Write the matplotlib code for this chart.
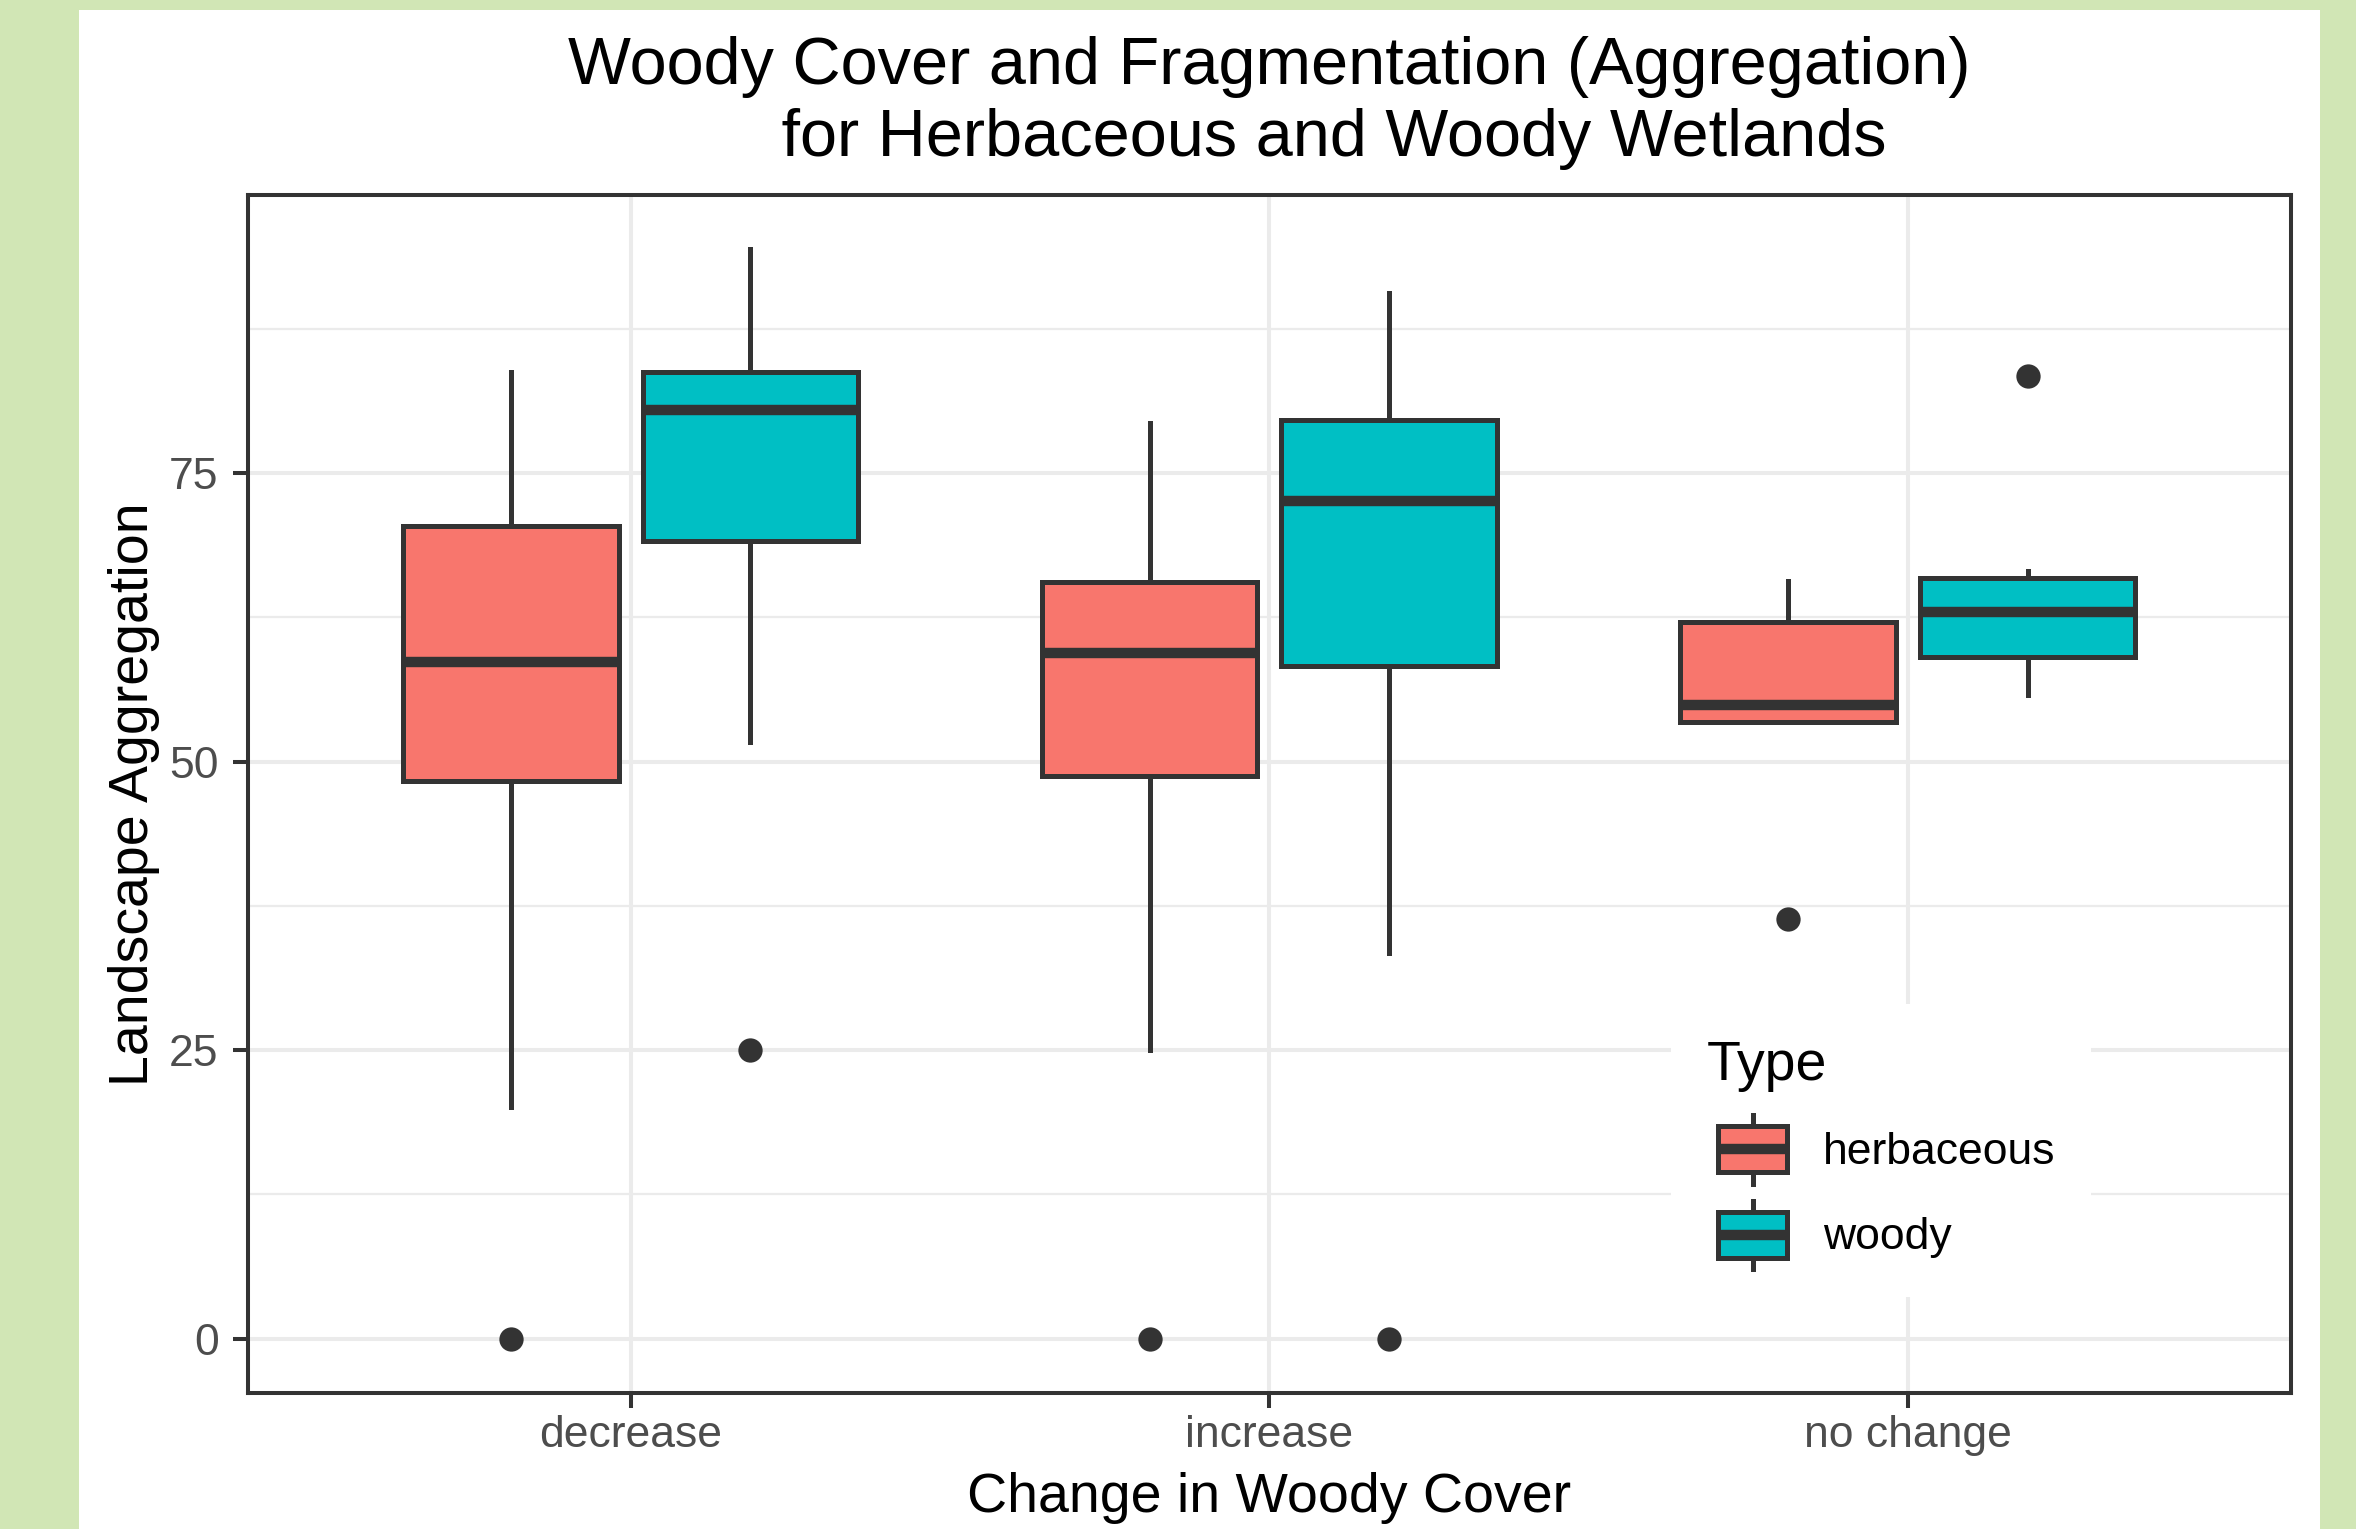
import matplotlib
matplotlib.use("Agg")
import matplotlib.pyplot as plt
from matplotlib.patches import Rectangle
from matplotlib.lines import Line2D
from matplotlib.legend_handler import HandlerBase
import numpy as np

plt.rcParams['font.family'] = ['Liberation Sans', 'DejaVu Sans']

# ---------------- data ----------------
categories = ["decrease", "increase", "no change"]
types = ["herbaceous", "woody"]
fill_colors = ["#F8766D", "#00BFC4"]

herb_whislo = [20.1, 25.0, 53.4]
herb_q1 = [48.3, 48.8, 53.4]
herb_med = [58.6, 59.4, 54.9]
herb_q3 = [70.4, 65.6, 62.1]
herb_whishi = [83.8, 79.4, 65.7]
herb_fliers = [[0.0], [0.0], [36.4]]

woody_whislo = [51.7, 33.4, 55.8]
woody_q1 = [69.1, 58.3, 59.1]
woody_med = [80.5, 72.6, 63.0]
woody_q3 = [83.8, 79.6, 65.9]
woody_whishi = [94.4, 90.6, 66.5]
woody_fliers = [[25.0], [0.0], [83.4]]

y_ticks = [0, 25, 50, 75]
y_minor_ticks = [12.5, 37.5, 62.5, 87.5]

title = "Woody Cover and Fragmentation (Aggregation)\n       for Herbaceous and Woody Wetlands"
x_label = "Change in Woody Cover"
y_label = "Landscape Aggregation"
legend_title = "Type"

# ---------------- styling ----------------
EDGE = "#333333"
GRID = "#ebebeb"
LW = 3.6
MED_LW = 7.5

fig = plt.figure(figsize=(23.56, 15.29), dpi=100)
fig.patch.set_facecolor("#d1e6b5")
fig.add_artist(Rectangle((79 / 2356, 0), (2320 - 79) / 2356, 1 - 10 / 1529,
                         transform=fig.transFigure, facecolor="white",
                         edgecolor="none", zorder=-10))

ax = fig.add_axes([247.5 / 2356, 1 - 1393 / 1529, 2043.5 / 2356, 1198 / 1529])
ax.set_facecolor("white")

series = [
    (herb_whislo, herb_q1, herb_med, herb_q3, herb_whishi, herb_fliers),
    (woody_whislo, woody_q1, woody_med, woody_q3, woody_whishi, woody_fliers),
]
dodge = [-0.1875, 0.1875]
base_pos = np.arange(1, len(categories) + 1)

for (wl, q1, med, q3, wh, fl), off, col in zip(series, dodge, fill_colors):
    stats = []
    for i in range(len(categories)):
        stats.append(dict(whislo=wl[i], q1=q1[i], med=med[i], q3=q3[i],
                          whishi=wh[i], fliers=fl[i]))
    ax.bxp(stats, positions=base_pos + off, widths=0.3375, patch_artist=True,
           showcaps=False, manage_ticks=False,
           boxprops=dict(facecolor=col, edgecolor=EDGE, linewidth=LW),
           whiskerprops=dict(color=EDGE, linewidth=LW),
           medianprops=dict(color=EDGE, linewidth=MED_LW, solid_capstyle="butt"),
           flierprops=dict(marker="o", markerfacecolor=EDGE, markeredgecolor="none",
                           markersize=17.5))

ax.set_xlim(0.4, 3.6)
ax.set_ylim(-4.72, 99.12)
ax.set_xticks(base_pos)
ax.set_xticklabels(categories)
ax.set_yticks(y_ticks)
ax.set_yticks(y_minor_ticks, minor=True)

ax.set_axisbelow(True)
ax.yaxis.grid(True, which="major", color=GRID, linewidth=2.9)
ax.yaxis.grid(True, which="minor", color=GRID, linewidth=1.6)
ax.xaxis.grid(True, which="major", color=GRID, linewidth=2.9)

for sp in ax.spines.values():
    sp.set_color(EDGE)
    sp.set_linewidth(2.9)

ax.tick_params(which="major", length=10.8, width=2.9, color=EDGE,
               labelcolor="#4d4d4d", labelsize=32)
ax.tick_params(axis="y", pad=10)
ax.tick_params(axis="x", pad=5)
ax.tick_params(which="minor", length=0)

ax.set_xlabel(x_label, fontsize=40, color="black", va="top")
ax.xaxis.set_label_coords(0.5, -0.066)
ax.set_ylabel(y_label, fontsize=40, color="black")
ax.yaxis.label.set_va("top")
ax.yaxis.set_label_coords(-0.0683, 0.5)

ax.set_title(title, fontsize=48, color="black", y=1.0209, pad=0, va="bottom",
             linespacing=1.21)


# ---------------- legend ----------------
class BoxKeyHandler(HandlerBase):
    def create_artists(self, legend, orig_handle, xdescent, ydescent, width,
                       height, fontsize, trans):
        x0, y0 = -xdescent, -ydescent
        cx = x0 + width / 2
        cy = y0 + height / 2
        bw = 0.75 * width
        bh = 0.844 * height
        wh = 1.25 * height
        whisk = Line2D([cx, cx], [cy - wh / 2, cy + wh / 2], color=EDGE,
                       linewidth=LW, transform=trans)
        rect = Rectangle((cx - bw / 2, cy - bh / 2), bw, bh,
                         facecolor=orig_handle.get_facecolor(), edgecolor=EDGE,
                         linewidth=LW, transform=trans)
        med = Line2D([cx - bw / 2, cx + bw / 2], [cy, cy], color=EDGE,
                     linewidth=MED_LW, solid_capstyle="butt", transform=trans)
        return [whisk, rect, med]


handles = [Rectangle((0, 0), 1, 1, facecolor=c) for c in fill_colors]
leg = ax.legend(handles, types, title=legend_title, loc="upper left",
                bbox_to_anchor=(0.6966, 0.3247), borderaxespad=0,
                handler_map={Rectangle: BoxKeyHandler()},
                fontsize=32, title_fontsize=40, alignment="left",
                handlelength=2.07, handleheight=1.51, labelspacing=0.69,
                handletextpad=0.55, borderpad=0.8, frameon=True,
                fancybox=False, framealpha=1)
leg.get_frame().set_facecolor("white")
leg.get_frame().set_edgecolor("none")
for t in leg.get_texts():
    t.set_color("black")

fig.savefig("out.png", dpi=100, facecolor=fig.get_facecolor())
